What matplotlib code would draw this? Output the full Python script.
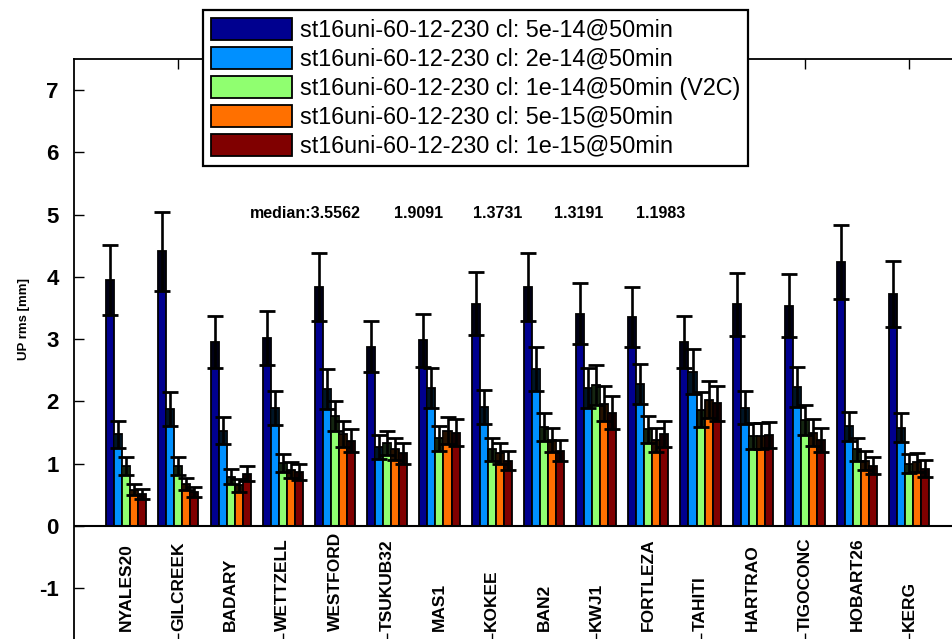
import numpy as np
import matplotlib
matplotlib.use("Agg")
import matplotlib.pyplot as plt

plt.rcParams['font.family'] = ['Liberation Sans', 'DejaVu Sans']
plt.rcParams['axes.unicode_minus'] = False

stations = ["NYALES20", "GILCREEK", "BADARY", "WETTZELL", "WESTFORD", "TSUKUB32",
            "MAS1", "KOKEE", "BAN2", "KWJ1", "FORTLEZA", "TAHITI", "HARTRAO",
            "TIGOCONC", "HOBART26", "KERG"]

series_names = ["st16uni-60-12-230 cl: 5e-14@50min",
                "st16uni-60-12-230 cl: 2e-14@50min",
                "st16uni-60-12-230 cl: 1e-14@50min (V2C)",
                "st16uni-60-12-230 cl: 5e-15@50min",
                "st16uni-60-12-230 cl: 1e-15@50min"]

# rms per station, one list per series
rms_5e14 = [3.95, 4.41, 2.95, 3.02, 3.84, 2.88, 2.98, 3.57, 3.84, 3.41, 3.35, 2.96, 3.56, 3.54, 4.24, 3.73]
rms_2e14 = [1.47, 1.88, 1.53, 1.89, 2.20, 1.27, 2.22, 1.91, 2.52, 2.22, 2.28, 2.48, 1.90, 2.23, 1.60, 1.58]
rms_1e14 = [0.96, 0.96, 0.79, 1.01, 1.77, 1.33, 1.41, 1.23, 1.59, 2.27, 1.55, 1.87, 1.45, 1.70, 1.23, 1.00]
rms_5e15 = [0.58, 0.67, 0.65, 0.90, 1.48, 1.24, 1.53, 1.17, 1.38, 1.96, 1.38, 2.03, 1.45, 1.50, 1.05, 1.02]
rms_1e15 = [0.52, 0.55, 0.84, 0.87, 1.37, 1.17, 1.50, 1.05, 1.21, 1.82, 1.48, 1.97, 1.46, 1.38, 0.97, 0.92]

# error bar half-lengths
err_5e14 = [0.56, 0.63, 0.42, 0.44, 0.55, 0.41, 0.43, 0.51, 0.55, 0.49, 0.48, 0.42, 0.51, 0.51, 0.60, 0.53]
err_2e14 = [0.21, 0.27, 0.22, 0.27, 0.32, 0.19, 0.32, 0.27, 0.36, 0.32, 0.32, 0.36, 0.27, 0.32, 0.23, 0.23]
err_1e14 = [0.14, 0.14, 0.12, 0.15, 0.24, 0.19, 0.20, 0.18, 0.23, 0.32, 0.22, 0.28, 0.21, 0.24, 0.18, 0.15]
err_5e15 = [0.09, 0.10, 0.10, 0.13, 0.21, 0.18, 0.22, 0.17, 0.20, 0.28, 0.20, 0.30, 0.21, 0.22, 0.15, 0.15]
err_1e15 = [0.08, 0.08, 0.12, 0.13, 0.19, 0.17, 0.21, 0.15, 0.17, 0.26, 0.21, 0.28, 0.21, 0.20, 0.14, 0.14]

medians = ["median:3.5562", "1.9091", "1.3731", "1.3191", "1.1983"]
median_x = [4.44, 6.59, 8.12, 9.66, 11.24]

colors = ["#00008f", "#0090ff", "#90ff70", "#ff7000", "#800000"]

rms = [rms_5e14, rms_2e14, rms_1e14, rms_5e15, rms_1e15]
errs = [err_5e14, err_2e14, err_1e14, err_5e15, err_1e15]


def main():
    fig = plt.figure(figsize=(9.53, 6.39), dpi=100)
    ax = fig.add_axes([74 / 953, -4 / 639, 887.6 / 953, 584 / 639])

    x = np.arange(1, len(stations) + 1)
    width = 0.769 / 5
    for i in range(5):
        pos = x + (i - 2) * width
        v = np.array(rms[i])
        e = np.array(errs[i])
        ax.bar(pos, v, width, color=colors[i], edgecolor="black", linewidth=1.3,
               label=series_names[i], zorder=2)
        # darker band where the error bar runs inside the bar
        ax.bar(pos, e, width * 0.8, bottom=v - e, color="black", alpha=0.85,
               linewidth=0, zorder=3)
        ax.errorbar(pos, v, yerr=e, fmt="none", ecolor="black", elinewidth=1.9,
                    capsize=6, capthick=2, zorder=4)

    ax.axhline(0, color="black", linewidth=1.5, zorder=5)

    for xi, name in zip(x, stations):
        ax.text(xi, -1.69, name, rotation=90, ha="center", va="bottom",
                fontsize=12.5, fontweight="bold")

    for mx, txt in zip(median_x, medians):
        ax.text(mx, 5.02, txt, ha="center", va="center", fontsize=11.5,
                fontweight="bold")

    ax.set_xlim(0, 17)
    ax.set_ylim(-1.88, 7.5)
    ax.set_yticks(range(-1, 8))
    ax.set_xticks(range(2, 17, 2))
    ax.set_xticklabels([])
    ax.tick_params(direction="in", length=7, width=1, top=True, right=True)
    ax.tick_params(axis="y", labelsize=16, pad=11)
    for lbl in ax.get_yticklabels():
        lbl.set_fontweight("bold")
    for sp in ax.spines.values():
        sp.set_linewidth(1.3)
    ax.set_ylabel("UP rms [mm]", fontsize=9.5, fontweight="bold")
    ax.yaxis.set_label_coords(-0.05, (643 - 319) / 584)

    leg = fig.legend(loc="upper left", bbox_to_anchor=(203 / 953, 1 - 10 / 639),
                     fontsize=16.8, handlelength=3.45, handleheight=1.03,
                     labelspacing=0.23, handletextpad=0.34, borderpad=0.35,
                     borderaxespad=0, fancybox=False, framealpha=1,
                     edgecolor="black")
    leg.get_frame().set_linewidth(1.6)

    fig.savefig("out.png", dpi=100)


if __name__ == "__main__":
    main()
